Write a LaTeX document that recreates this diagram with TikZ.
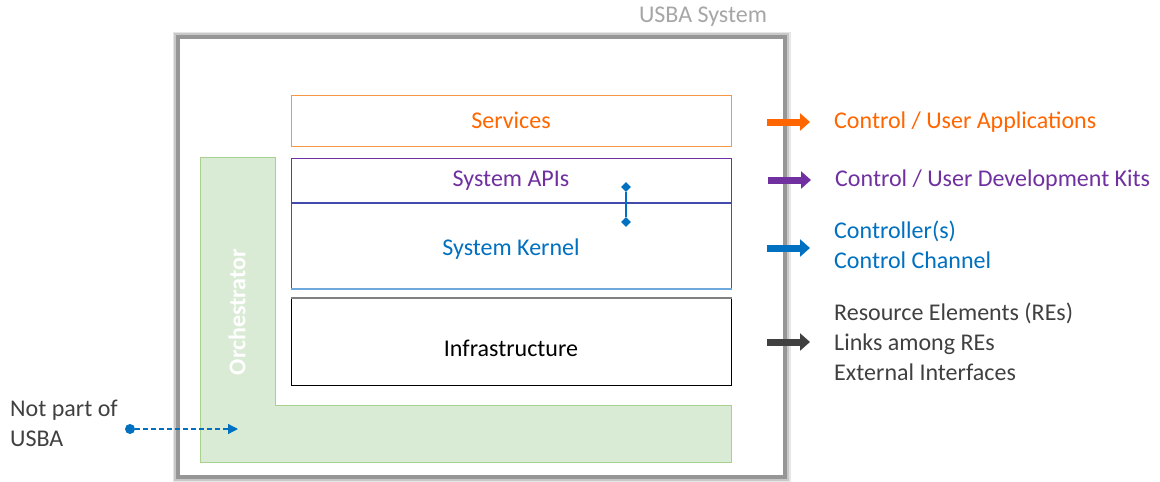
\documentclass[tikz,border=0pt]{standalone}
\usepackage{fontspec}
\setmainfont{Carlito}
\usetikzlibrary{arrows.meta,shapes.geometric}
\definecolor{cOrange}{HTML}{FF6600}
\definecolor{cOrangeLine}{HTML}{F79646}
\definecolor{cPurple}{HTML}{7030A0}
\definecolor{cBlue}{HTML}{0070C0}
\definecolor{cBlueLight}{HTML}{6FA8DC}
\definecolor{cDark}{HTML}{404040}
\definecolor{cGrayText}{HTML}{A6A6A6}
\definecolor{cGreenFill}{HTML}{DAEBD5}
\definecolor{cGreenLine}{HTML}{A9D18E}
\definecolor{cFrame}{HTML}{969696}
\definecolor{cFrameSoft}{HTML}{C8C8C8}
\definecolor{cFrameSofter}{HTML}{E6E6E6}
\begin{document}
\begin{tikzpicture}[x=1pt,y=-1pt,
  every node/.style={font=\fontsize{24}{30}\selectfont},
  layerbox/.style={anchor=north west, minimum width=440pt, inner sep=0pt, line width=1pt},
  txt/.style={inner sep=0pt},
  bigarrow/.style={line width=7pt, -{Triangle[length=10pt,width=17pt]}},
  pin/.style={diamond, fill=cBlue, inner sep=0pt, minimum size=10pt}
]
\path[use as bounding box] (0,0) rectangle (1160,482);
% outer frame with soft shadow
\draw[cFrameSofter, line width=11pt] (178,37) rectangle (785,477);
\draw[cFrameSoft, line width=8pt] (178,37) rectangle (785,477);
\draw[cFrame, line width=4.5pt, fill=white] (178,37) rectangle (785,477);
\node[txt, text=cGrayText] (sysl) at (703,17) {USBA System};

% orchestrator L shape
\draw[fill=cGreenFill, draw=cGreenLine, line width=1pt]
  (200,157) -- (275,157) -- (275,405) -- (731,405) -- (731,462) -- (200,462) -- cycle;
\node[txt, rotate=90, text=white, font=\fontsize{24}{30}\selectfont\bfseries] (orch) at (237,312) {Orchestrator};

% layers
\node[layerbox, draw=cOrangeLine, minimum height=51pt] (svc) at (291,95) {};
\node[txt, text=cOrange] (svct) at (511,120) {Services};
\node[layerbox, draw=cPurple, minimum height=45pt] (api) at (291,158) {};
\node[txt, text=cPurple] (apit) at (511,181) {System APIs};
\node[layerbox, draw=cBlue, minimum height=85pt] (ker) at (291,203) {};
\draw[cBlueLight, line width=1.5pt] (ker.south west) -- (ker.south east);
\draw[cPurple!60!cBlue, line width=1.5pt] (ker.north west) -- (ker.north east);
\node[txt, text=cBlue] (kert) at (511,249) {System Kernel};
\node[layerbox, draw=black, minimum height=87pt] (inf) at (291,298) {};
\draw[gray, line width=1.5pt] (inf.north west) -- (inf.north east);
\node[txt, text=black] (inft) at (511,348) {Infrastructure};

% API-kernel link
\node[pin] (p1) at (626,187) {};
\node[pin] (p2) at (626,222) {};
\draw[cBlue, line width=1.5pt] (p1) -- (p2);

% right-side arrows and labels
\node[txt, anchor=west, text=cOrange] (l1) at (834,122) {Control / User Applications};
\node[txt, anchor=west, text=cPurple] (l2) at (835,180) {Control / User Development Kits};
\node[txt, anchor=west, text=cBlue, align=left] (l3) at (834,245) {Controller(s)\\Control Channel};
\node[txt, anchor=west, text=cDark, align=left] (l4) at (834,342) {Resource Elements (REs)\\Links among REs\\External Interfaces};
\coordinate (a1) at (767,122); \coordinate (b1) at (810,122);
\coordinate (a2) at (768,180); \coordinate (b2) at (811,180);
\coordinate (a3) at (767,248); \coordinate (b3) at (810,248);
\coordinate (a4) at (767,342); \coordinate (b4) at (810,342);
\draw[bigarrow, cOrange] (a1) -- (b1);
\draw[bigarrow, cPurple] (a2) -- (b2);
\draw[bigarrow, cBlue] (a3) -- (b3);
\draw[bigarrow, cDark] (a4) -- (b4);

% not part of USBA
\node[txt, anchor=west, text=cDark, align=left] (np) at (10,423) {Not part of\\USBA};
\node[circle, fill=cBlue, inner sep=0pt, minimum size=10pt] (dot) at (130,429) {};
\coordinate (dend) at (238,429);
\draw[cBlue, line width=1.3pt, dashed, dash pattern=on 5pt off 3pt, -{Triangle[length=10pt,width=10pt]}] (dot) -- (dend);
\end{tikzpicture}
\end{document}
